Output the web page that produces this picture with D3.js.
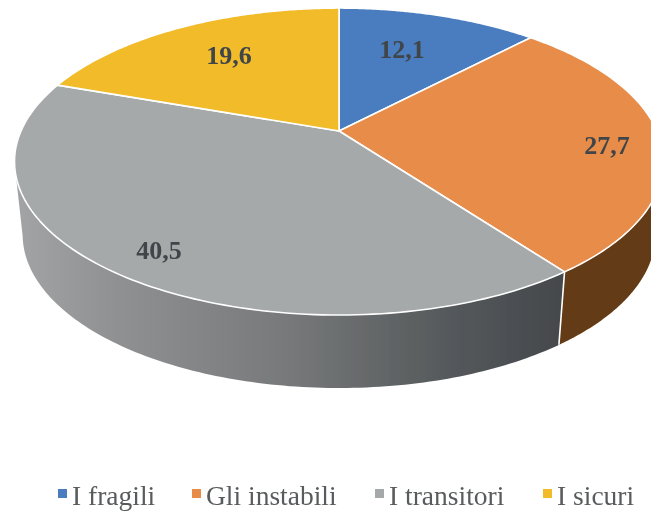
<!DOCTYPE html>
<html><head><meta charset="utf-8">
<script src="https://cdn.jsdelivr.net/npm/d3@7/dist/d3.min.js"></script>
<style>html,body{margin:0;padding:0;background:#fff;overflow:hidden}svg{display:block}</style>
</head><body><svg id="c" width="651" height="512"></svg>
<script>
const categories = ["I fragili","Gli instabili","I transitori","I sicuri"];
const values = [12.1,27.7,40.5,19.6];
const labels = ["12,1","27,7","40,5","19,6"];
const colors = ["#4a7dbf","#e78c48","#a6a9a9","#f1bb2b"];
const W=651,H=512;
const svg=d3.select("#c");
const defs=svg.append("defs");
const f=defs.append("filter").attr("id","soft").attr("x",0).attr("y",0).attr("width",1).attr("height",1);
f.append("feGaussianBlur").attr("stdDeviation",0.55);
const gg=defs.append("linearGradient").attr("id","wallGray").attr("gradientUnits","userSpaceOnUse")
  .attr("x1",15).attr("x2",557).attr("y1",0).attr("y2",0);
[[0,"#a2a4a5"],[0.18,"#8f9192"],[0.5,"#77797a"],[0.8,"#55595b"],[1,"#45494c"]].forEach(s=>gg.append("stop").attr("offset",s[0]).attr("stop-color",s[1]));
const root=svg.append("g").attr("filter","url(#soft)");
// perspective projection of the pie disc
const cx=339,cy=131,ax=318,by=147.4,k=0.199,depth=73,shrink=0.975;
function proj(theta,level){
  const u=Math.sin(theta),v=-Math.cos(theta),d=1-k*v;
  const s=level?shrink:1;
  return [cx+s*ax*u/d, cy+by*v/d+(level?depth:0)];
}
const pie=d3.pie().sort(null).value(d=>d)(values);
const line=d3.line();
const rim=(a0,a1,level)=>d3.range(0,121).map(i=>proj(a0+(a1-a0)*i/120,level));
// side walls
const silh=258*Math.PI/180;
const wallFill=["none","#633a12","url(#wallGray)","none"];
pie.forEach((p,i)=>{
  if(wallFill[i]==="none")return;
  const a0=Math.max(p.startAngle,i==1?95*Math.PI/180:0);
  const a1=i==2?silh:p.endAngle;
  const pts=rim(a0,a1,0).concat(rim(a0,a1,1).reverse());
  root.append("path").attr("d",line(pts)+"Z").attr("fill",wallFill[i]);
});
// white seam between the walls
root.append("path").attr("d",line([proj(pie[2].startAngle,0),proj(pie[2].startAngle,1)]))
  .attr("stroke","#fff").attr("stroke-width",1.6).attr("fill","none");
// top slices
pie.forEach((p,i)=>{
  const pts=[[cx,cy]].concat(rim(p.startAngle,p.endAngle,0));
  root.append("path").attr("d",line(pts)+"Z").attr("fill",colors[i]).attr("stroke","#fff").attr("stroke-width",1.6).attr("stroke-linejoin","round");
});
// value labels
const labelPos=[[402,49],[607,145],[159,250],[229,55]];
root.selectAll("text.v").data(labels).join("text").attr("class","v")
  .attr("x",(d,i)=>labelPos[i][0]).attr("y",(d,i)=>labelPos[i][1])
  .attr("dy","0.35em").attr("text-anchor","middle")
  .attr("font-family","'Liberation Serif'").attr("font-weight","bold").attr("font-size",26).attr("fill","#404548")
  .text(d=>d);
// legend
const legX=[58,192,375,543];
const lg=root.selectAll("g.l").data(categories).join("g").attr("class","l").attr("transform",(d,i)=>`translate(${legX[i]},489)`);
lg.append("rect").attr("width",9).attr("height",9).attr("fill",(d,i)=>colors[i]);
lg.append("text").attr("x",14).attr("y",16).attr("font-family","'Liberation Serif'").attr("font-size",27.5).attr("fill","#595b5d").text(d=>d);
</script></body></html>
